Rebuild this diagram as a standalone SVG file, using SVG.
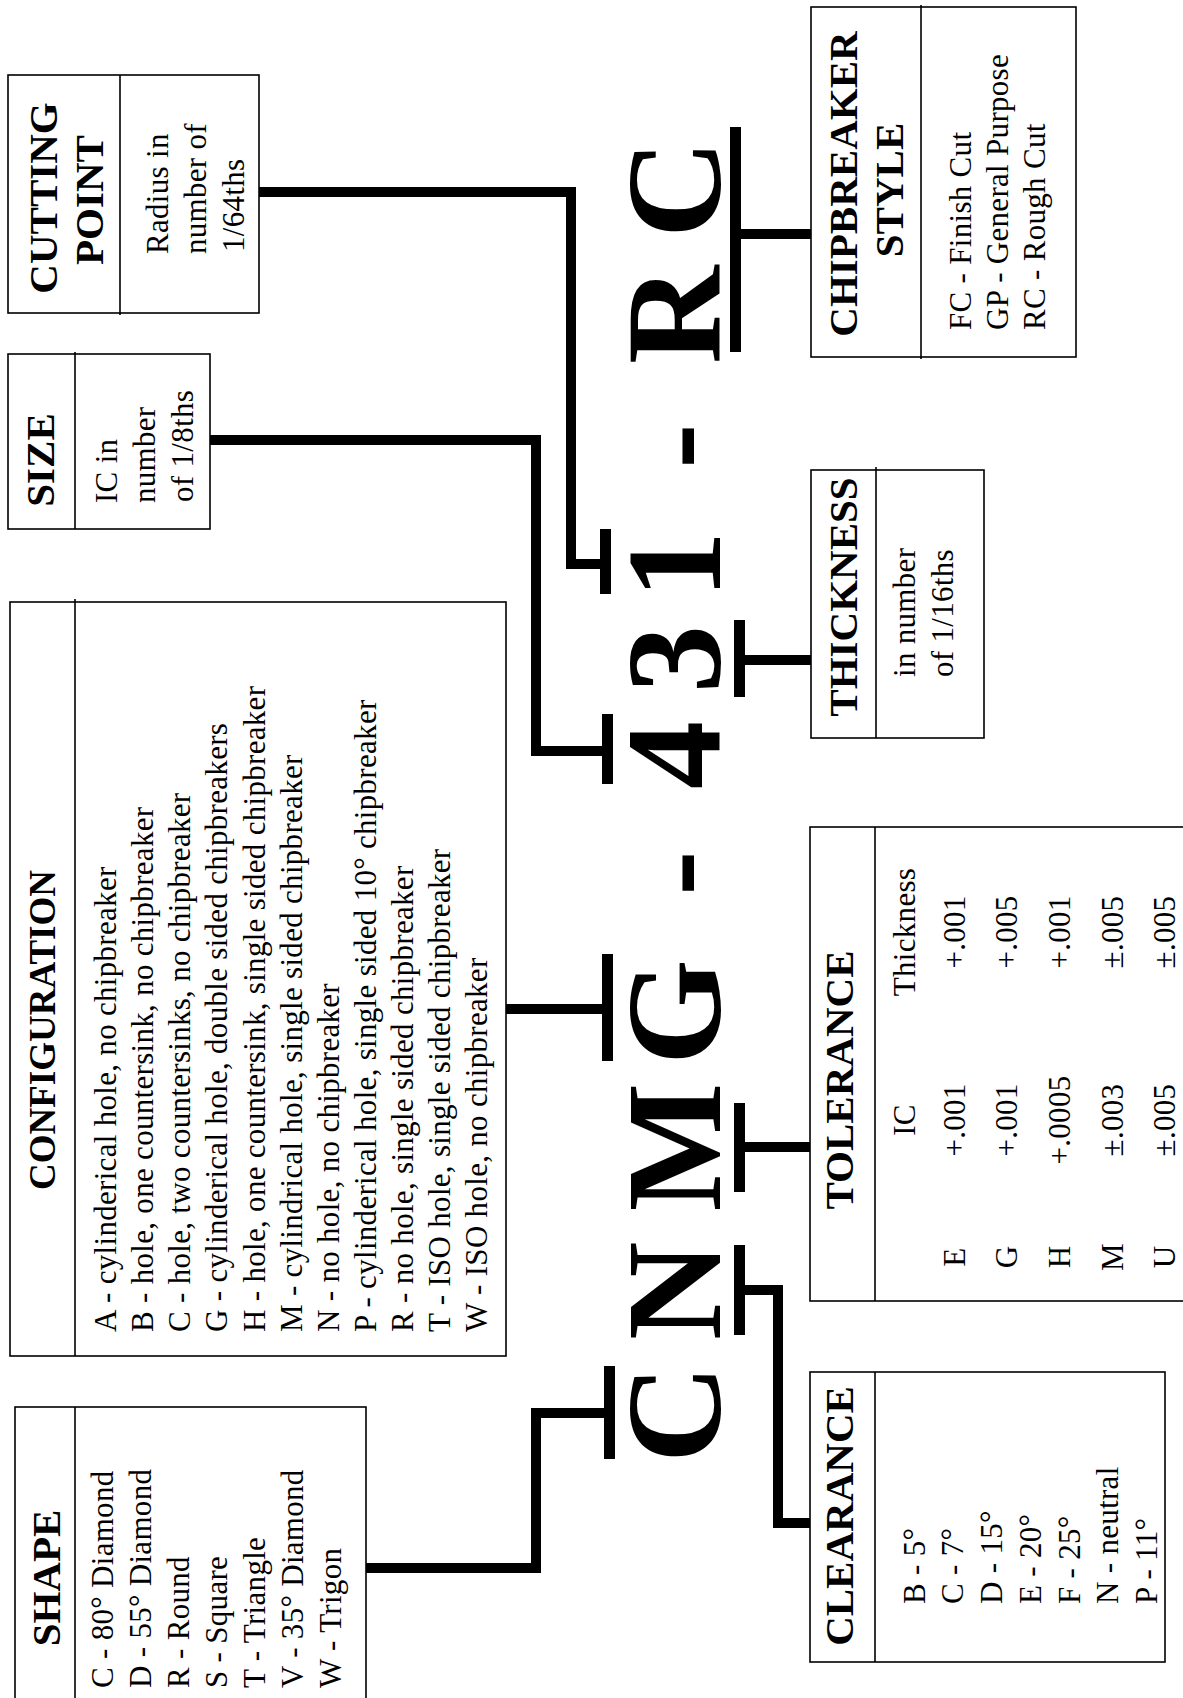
<svg xmlns="http://www.w3.org/2000/svg" width="1183" height="1698" viewBox="0 0 1183 1698">
<style>
.box{fill:none;stroke:#000;stroke-width:1.6}
.hd{font-family:"Liberation Serif",serif;font-weight:bold;font-size:41px;fill:#000}
.bd{font-family:"Liberation Serif",serif;font-size:31px;letter-spacing:0.3px;fill:#000}
.big{font-family:"Liberation Serif",serif;font-weight:bold;font-size:136px;fill:#000}
.conn{fill:none;stroke:#000;stroke-width:10;stroke-linejoin:miter;stroke-linecap:butt}
.tbar{fill:#000}
.mid{text-anchor:middle}
</style>
<rect width="1183" height="1698" fill="#fff"/>

<g id="code">
<text class="big" transform="rotate(-90)" y="720" x="-1414 -1291 -1147 -1012 -940 -873 -815 -755 -659 -565 -505 -446 -380 -315 -189" text-anchor="middle">CNMG - 431 - RC</text>
</g>

<g id="connectors">
<rect class="tbar" x="604" y="1366" width="11" height="93"/>
<rect class="tbar" x="602" y="954" width="11" height="107"/>
<rect class="tbar" x="602" y="714" width="11" height="70"/>
<rect class="tbar" x="600" y="529" width="11" height="65"/>
<rect class="tbar" x="734" y="1245" width="11" height="90"/>
<rect class="tbar" x="734" y="1103" width="11" height="89"/>
<rect class="tbar" x="734" y="620" width="11" height="77"/>
<rect class="tbar" x="730" y="127" width="11" height="225"/>
<polyline class="conn" points="366,1568 536,1568 536,1413 606,1413"/>
<polyline class="conn" points="506,1009 604,1009"/>
<polyline class="conn" points="210,440 536,440 536,751 604,751"/>
<polyline class="conn" points="259,192 571,192 571,564 602,564"/>
<polyline class="conn" points="742,660 811,660"/>
<polyline class="conn" points="742,1147 810,1147"/>
<polyline class="conn" points="742,1290 778,1290 778,1523 810,1523"/>
<polyline class="conn" points="738,234 811,234"/>
</g>

<g id="cutting-point">
<rect class="box" x="8" y="75" width="251" height="238"/>
<line class="box" x1="120" y1="75" x2="120" y2="315"/>
<text class="hd mid" transform="rotate(-90)" x="-198" y="57">CUTTING</text>
<text class="hd mid" transform="rotate(-90)" x="-200" y="103">POINT</text>
<text class="bd" transform="rotate(-90)" x="-254" y="168">Radius in</text>
<text class="bd" transform="rotate(-90)" x="-254" y="206">number of</text>
<text class="bd" transform="rotate(-90)" x="-252" y="244">1/64ths</text>
</g>

<g id="size">
<rect class="box" x="8" y="354" width="202" height="175"/>
<line class="box" x1="75" y1="352" x2="75" y2="529"/>
<text class="hd mid" transform="rotate(-90)" x="-460" y="54">SIZE</text>
<text class="bd" transform="rotate(-90)" x="-503" y="117">IC in</text>
<text class="bd" transform="rotate(-90)" x="-503" y="155">number</text>
<text class="bd" transform="rotate(-90)" x="-502" y="193">of 1/8ths</text>
</g>

<g id="configuration">
<rect class="box" x="10" y="602" width="496" height="754"/>
<line class="box" x1="75" y1="599" x2="75" y2="1356"/>
<text class="hd mid" transform="rotate(-90)" x="-1030" y="55" style="font-size:37px">CONFIGURATION</text>
<text class="bd" transform="rotate(-90)" x="-1332" y="116">A - cylinderical hole, no chipbreaker</text>
<text class="bd" transform="rotate(-90)" x="-1332" y="153">B - hole, one countersink, no chipbreaker</text>
<text class="bd" transform="rotate(-90)" x="-1332" y="190">C - hole, two countersinks, no chipbreaker</text>
<text class="bd" transform="rotate(-90)" x="-1332" y="227">G - cylinderical hole, double sided chipbreakers</text>
<text class="bd" transform="rotate(-90)" x="-1332" y="265">H - hole, one countersink, single sided chipbreaker</text>
<text class="bd" transform="rotate(-90)" x="-1332" y="302">M - cylindrical hole, single sided chipbreaker</text>
<text class="bd" transform="rotate(-90)" x="-1332" y="339">N - no hole, no chipbreaker</text>
<text class="bd" transform="rotate(-90)" x="-1332" y="376">P - cylinderical hole, single sided 10°  chipbreaker</text>
<text class="bd" transform="rotate(-90)" x="-1332" y="413">R - no hole, single sided chipbreaker</text>
<text class="bd" transform="rotate(-90)" x="-1332" y="450">T - ISO hole, single sided chipbreaker</text>
<text class="bd" transform="rotate(-90)" x="-1332" y="487">W - ISO hole, no chipbreaker</text>
</g>

<g id="shape">
<rect class="box" x="15" y="1407" width="351" height="300"/>
<line class="box" x1="75" y1="1407" x2="75" y2="1707"/>
<text class="hd mid" transform="rotate(-90)" x="-1578" y="60">SHAPE</text>
<text class="bd" transform="rotate(-90)" x="-1688" y="113">C - 80° Diamond</text>
<text class="bd" transform="rotate(-90)" x="-1688" y="151">D - 55° Diamond</text>
<text class="bd" transform="rotate(-90)" x="-1688" y="189">R - Round</text>
<text class="bd" transform="rotate(-90)" x="-1688" y="227">S - Square</text>
<text class="bd" transform="rotate(-90)" x="-1688" y="265">T - Triangle</text>
<text class="bd" transform="rotate(-90)" x="-1688" y="303">V - 35° Diamond</text>
<text class="bd" transform="rotate(-90)" x="-1688" y="341">W - Trigon</text>
</g>

<g id="chipbreaker-style">
<rect class="box" x="811" y="7" width="265" height="350"/>
<line class="box" x1="921" y1="5" x2="921" y2="359"/>
<text class="hd mid" transform="rotate(-90)" x="-184" y="857">CHIPBREAKER</text>
<text class="hd mid" transform="rotate(-90)" x="-190" y="903">STYLE</text>
<text class="bd" transform="rotate(-90)" x="-330" y="971">FC - Finish Cut</text>
<text class="bd" transform="rotate(-90)" x="-330" y="1008">GP - General Purpose</text>
<text class="bd" transform="rotate(-90)" x="-330" y="1045">RC - Rough Cut</text>
</g>

<g id="thickness">
<rect class="box" x="811" y="470" width="173" height="268"/>
<line class="box" x1="876" y1="467" x2="876" y2="738"/>
<text class="hd mid" transform="rotate(-90)" x="-597" y="857">THICKNESS</text>
<text class="bd" transform="rotate(-90)" x="-677" y="915">in number</text>
<text class="bd" transform="rotate(-90)" x="-677" y="953">of 1/16ths</text>
</g>

<g id="tolerance">
<rect class="box" x="810" y="827" width="390" height="474"/>
<line class="box" x1="875" y1="827" x2="875" y2="1301"/>
<text class="hd mid" transform="rotate(-90)" x="-1080" y="853">TOLERANCE</text>
<g class="bd mid">
<text transform="rotate(-90)" x="-1120" y="915">IC</text>
<text transform="rotate(-90)" x="-932" y="915">Thickness</text>
<text transform="rotate(-90)" x="-1257" y="965">E</text>
<text transform="rotate(-90)" x="-1120" y="965">+.001</text>
<text transform="rotate(-90)" x="-932" y="965">+.001</text>
<text transform="rotate(-90)" x="-1257" y="1017">G</text>
<text transform="rotate(-90)" x="-1120" y="1017">+.001</text>
<text transform="rotate(-90)" x="-932" y="1017">+.005</text>
<text transform="rotate(-90)" x="-1257" y="1070">H</text>
<text transform="rotate(-90)" x="-1120" y="1070">+.0005</text>
<text transform="rotate(-90)" x="-932" y="1070">+.001</text>
<text transform="rotate(-90)" x="-1257" y="1123">M</text>
<text transform="rotate(-90)" x="-1120" y="1123">±.003</text>
<text transform="rotate(-90)" x="-932" y="1123">±.005</text>
<text transform="rotate(-90)" x="-1257" y="1175">U</text>
<text transform="rotate(-90)" x="-1120" y="1175">±.005</text>
<text transform="rotate(-90)" x="-932" y="1175">±.005</text>
</g>
</g>

<g id="clearance">
<rect class="box" x="810" y="1372" width="355" height="290"/>
<line class="box" x1="875" y1="1372" x2="875" y2="1662"/>
<text class="hd mid" transform="rotate(-90)" x="-1516" y="853">CLEARANCE</text>
<text class="bd" transform="rotate(-90)" x="-1604" y="925">B - 5°</text>
<text class="bd" transform="rotate(-90)" x="-1604" y="963">C - 7°</text>
<text class="bd" transform="rotate(-90)" x="-1604" y="1002">D - 15°</text>
<text class="bd" transform="rotate(-90)" x="-1604" y="1041">E - 20°</text>
<text class="bd" transform="rotate(-90)" x="-1604" y="1080">F - 25°</text>
<text class="bd" transform="rotate(-90)" x="-1604" y="1118">N - neutral</text>
<text class="bd" transform="rotate(-90)" x="-1604" y="1157">P - 11°</text>
</g>
</svg>
